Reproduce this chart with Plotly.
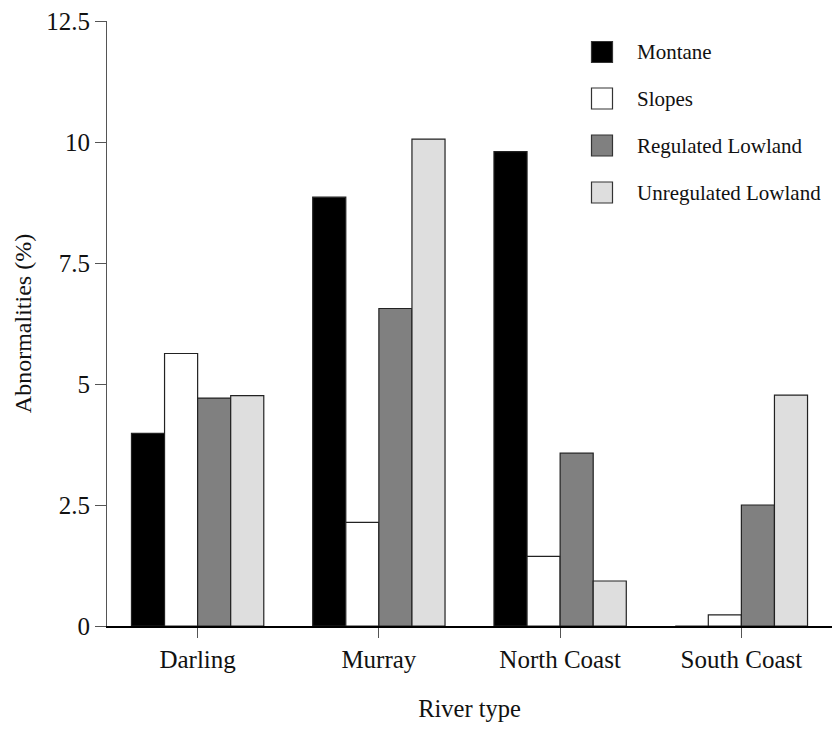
import plotly.graph_objects as go

# River types on the x axis
river_types = ["Darling", "Murray", "North Coast", "South Coast"]

# Abnormality percentages per river class
montane = [3.98, 8.86, 9.80, 0.0]
slopes = [5.63, 2.14, 1.44, 0.23]
regulated_lowland = [4.71, 6.56, 3.57, 2.50]
unregulated_lowland = [4.76, 10.06, 0.93, 4.77]

series_names = ["Montane", "Slopes", "Regulated Lowland", "Unregulated Lowland"]
series_values = [montane, slopes, regulated_lowland, unregulated_lowland]
series_colors = ["#000000", "#ffffff", "#808080", "#dedede"]

y_ticks = [0, 2.5, 5, 7.5, 10, 12.5]
y_tick_text = ["0", "2.5", "5", "7.5", "10", "12.5"]

FONT = "Liberation Serif"

fig = go.Figure()
for name, vals, col in zip(series_names, series_values, series_colors):
    fig.add_trace(go.Bar(
        x=river_types, y=vals, name=name,
        marker=dict(color=col, line=dict(color="#222222", width=1.2)),
        showlegend=False,
    ))

# Hand-built legend: square swatches with labels on the right
sw = 21
row_y = [52, 98.5, 145.5, 192.5]
for name, col, yc in zip(series_names, series_colors, row_y):
    fig.add_shape(
        type="rect", xref="paper", yref="paper",
        x0=(591.5 - 107) / (832 - 107), x1=(591.5 + sw - 107) / (832 - 107),
        y0=(626 - (yc + sw / 2)) / 605, y1=(626 - (yc - sw / 2)) / 605,
        fillcolor=col, line=dict(color="#333333", width=1.2),
    )
    fig.add_annotation(
        xref="paper", yref="paper",
        x=(635 - 107) / (832 - 107), y=(626 - yc) / 605,
        text=name, showarrow=False, xanchor="left", yanchor="middle",
        font=dict(family=FONT, size=21, color="#111111"),
    )

fig.update_layout(
    width=832, height=731,
    margin=dict(l=107, r=0, t=21, b=105),
    paper_bgcolor="white", plot_bgcolor="white",
    barmode="group", bargap=0.27, bargroupgap=0,
    font=dict(family=FONT, size=24, color="#111111"),
    xaxis=dict(
        range=[-0.5, 3.5], showgrid=False, zeroline=False,
        showline=True, linecolor="#000000", linewidth=2,
        ticks="outside", ticklen=10, tickcolor="#555555", tickwidth=1,
        title=dict(text="River type", font=dict(family=FONT, size=24.5), standoff=28),
        tickfont=dict(family=FONT, size=25),
    ),
    yaxis=dict(
        range=[0, 12.5], showgrid=False, zeroline=False,
        showline=True, linecolor="#555555", linewidth=1,
        ticks="outside", ticklen=11, tickcolor="#555555", tickwidth=1,
        tickvals=y_ticks, ticktext=y_tick_text,
        tickfont=dict(family=FONT, size=25),
        title=dict(text="Abnormalities (%)", font=dict(family=FONT, size=24), standoff=7),
    ),
)

fig.write_html("out.html")
